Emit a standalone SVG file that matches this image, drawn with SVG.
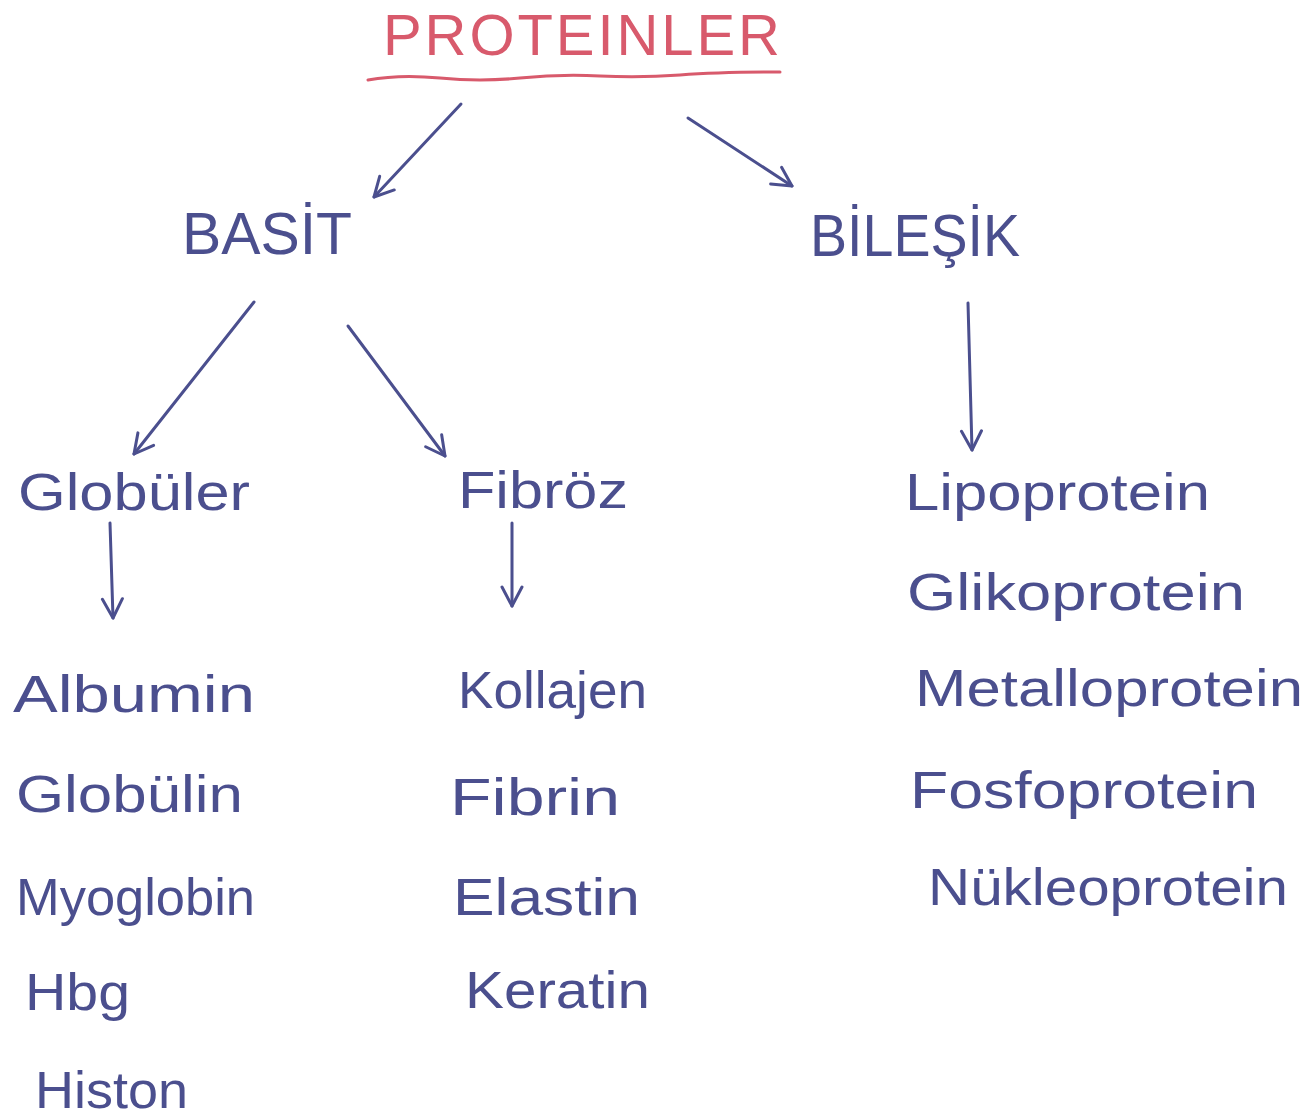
<svg xmlns="http://www.w3.org/2000/svg" width="1310" height="1117" viewBox="0 0 1310 1117">
<style>
.ink{fill:#4b4f8e;font-family:"Liberation Sans","DejaVu Sans",sans-serif;}
.title{fill:#d85a6c;font-family:"Liberation Sans","DejaVu Sans",sans-serif;font-size:58px;}
.big{font-size:60px;}
.item{font-size:52px;}
.conn{fill:none;stroke:#4b4f8e;stroke-width:3;stroke-linecap:round;marker-end:url(#ah);}
</style>
<defs>
<marker id="ah" viewBox="0 0 24 24" refX="21" refY="12" markerWidth="24" markerHeight="24" markerUnits="userSpaceOnUse" orient="auto">
<path d="M2,2 L21,12 L2,22" fill="none" stroke="#4b4f8e" stroke-width="3" stroke-linecap="round" stroke-linejoin="round"/>
</marker>
</defs>
<rect width="1310" height="1117" fill="#ffffff"/>

<g id="proteinler">
<text class="title" x="383" y="55" textLength="397" lengthAdjust="spacing">PROTEINLER</text>
<path d="M368,80 Q400,74 440,78 T520,78 T600,76 T680,75 T780,72" fill="none" stroke="#d85a6c" stroke-width="3" stroke-linecap="round"/>
</g>

<g id="basit"><text class="ink big" x="182" y="254" textLength="170" lengthAdjust="spacingAndGlyphs">BASİT</text></g>
<g id="bilesik"><text class="ink big" x="810" y="256" textLength="210" lengthAdjust="spacingAndGlyphs">BİLEŞİK</text></g>

<g id="globuler"><text class="ink item" x="18" y="510" textLength="232" lengthAdjust="spacingAndGlyphs">Globüler</text></g>
<g id="fibroz"><text class="ink item" x="458" y="508" textLength="170" lengthAdjust="spacingAndGlyphs">Fibröz</text></g>

<g id="lipoprotein"><text class="ink item" x="905" y="510" textLength="305" lengthAdjust="spacingAndGlyphs">Lipoprotein</text></g>
<g id="glikoprotein"><text class="ink item" x="907" y="610" textLength="338" lengthAdjust="spacingAndGlyphs">Glikoprotein</text></g>
<g id="metalloprotein"><text class="ink item" x="915" y="706" textLength="388" lengthAdjust="spacingAndGlyphs">Metalloprotein</text></g>
<g id="fosfoprotein"><text class="ink item" x="910" y="808" textLength="348" lengthAdjust="spacingAndGlyphs">Fosfoprotein</text></g>
<g id="nukleoprotein"><text class="ink item" x="928" y="905" textLength="360" lengthAdjust="spacingAndGlyphs">Nükleoprotein</text></g>

<g id="albumin"><text class="ink item" x="13" y="712" textLength="242" lengthAdjust="spacingAndGlyphs">Albumin</text></g>
<g id="globulin"><text class="ink item" x="16" y="812" textLength="227" lengthAdjust="spacingAndGlyphs">Globülin</text></g>
<g id="myoglobin"><text class="ink item" x="16" y="915" textLength="239" lengthAdjust="spacingAndGlyphs">Myoglobin</text></g>
<g id="hbg"><text class="ink item" x="25" y="1010" textLength="105" lengthAdjust="spacingAndGlyphs">Hbg</text></g>
<g id="histon"><text class="ink item" x="35" y="1108" textLength="153" lengthAdjust="spacingAndGlyphs">Histon</text></g>

<g id="kollajen"><text class="ink item" x="458" y="708" textLength="189" lengthAdjust="spacingAndGlyphs">Kollajen</text></g>
<g id="fibrin"><text class="ink item" x="450" y="815" textLength="170" lengthAdjust="spacingAndGlyphs">Fibrin</text></g>
<g id="elastin"><text class="ink item" x="453" y="915" textLength="187" lengthAdjust="spacingAndGlyphs">Elastin</text></g>
<g id="keratin"><text class="ink item" x="465" y="1008" textLength="185" lengthAdjust="spacingAndGlyphs">Keratin</text></g>

<g id="connectors">
<path class="conn" d="M461,104 L374,197"/>
<path class="conn" d="M688,118 L792,186"/>
<path class="conn" d="M254,302 L134,454"/>
<path class="conn" d="M348,326 L445,456"/>
<path class="conn" d="M968,303 L972,450"/>
<path class="conn" d="M110,523 L113,618"/>
<path class="conn" d="M512,523 L512,606"/>
</g>
</svg>
